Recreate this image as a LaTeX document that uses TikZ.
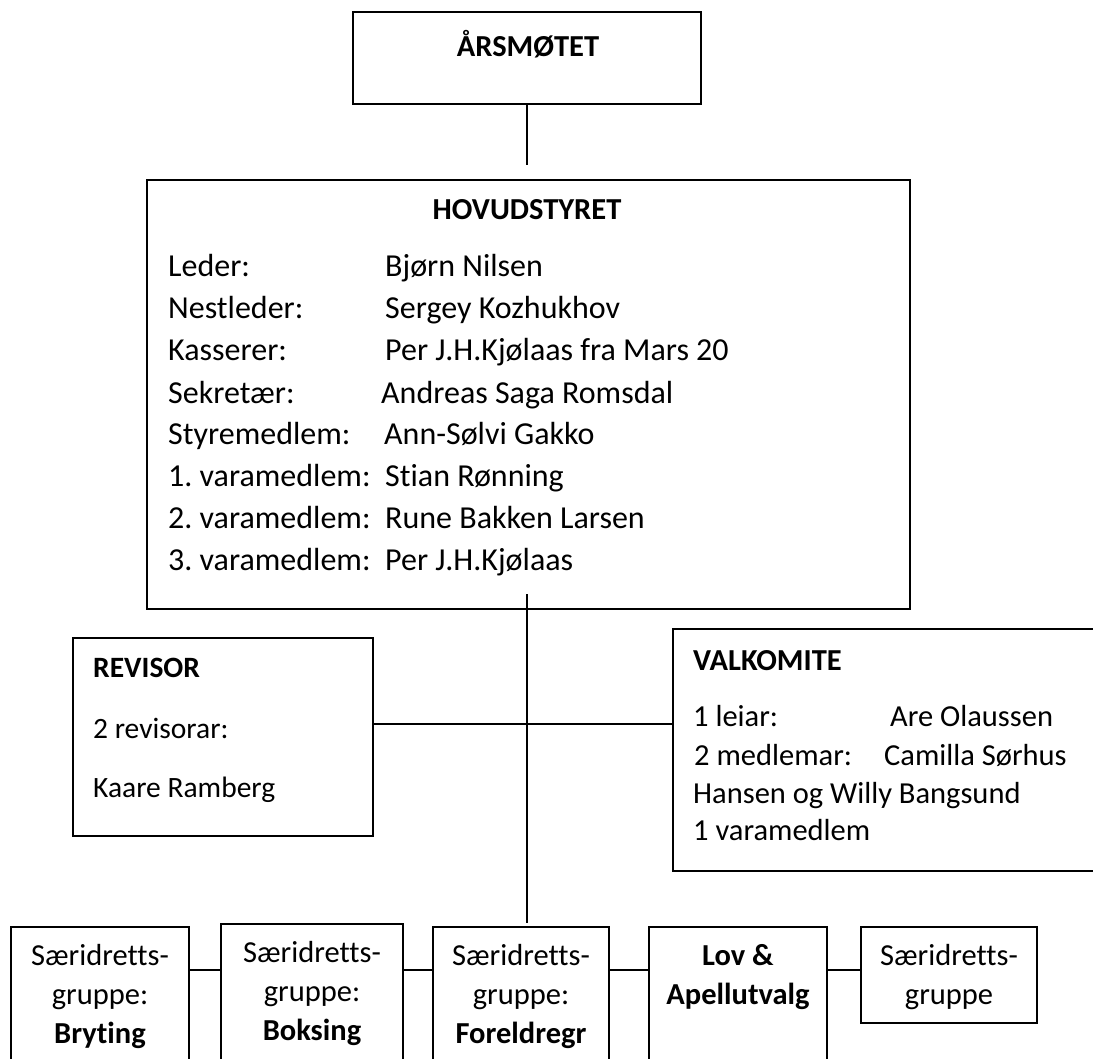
\documentclass[tikz,border=0pt]{standalone}
\usepackage{fontspec}
\setmainfont[Ligatures={NoCommon}]{Carlito}
\begin{document}
\frenchspacing
\begin{tikzpicture}[x=1pt,y=-1pt,
  box/.style={draw=black, line width=1.3pt, inner sep=0pt, outer sep=0pt, anchor=north west},
  lt/.style={anchor=base west, inner sep=0pt, font=\fontsize{30.5}{38}\selectfont},
  ht/.style={anchor=base west, inner sep=0pt, font=\fontsize{32}{38}\selectfont},
  rt/.style={anchor=base west, inner sep=0pt, font=\fontsize{29.5}{38}\selectfont},
  ct/.style={anchor=base, inner sep=0pt, font=\fontsize{30.5}{38}\selectfont},
  conn/.style={draw=black, line width=1.3pt}]
\useasboundingbox (0,0) rectangle (1093,1059);

% boxes
\node[box, minimum width=348pt, minimum height=92pt] (aars) at (353,12) {};
\node[box, minimum width=763pt, minimum height=429pt] (hov) at (147,180) {};
\node[box, minimum width=300pt, minimum height=198pt] (rev) at (73,638) {};
\node[box, minimum width=440pt, minimum height=242pt] (val) at (673,629) {};
\node[box, minimum width=178pt, minimum height=150pt] (bry) at (11,927) {};
\node[box, minimum width=182pt, minimum height=153pt] (bok) at (221,924) {};
\node[box, minimum width=176pt, minimum height=150pt] (fore) at (433,927) {};
\node[box, minimum width=178pt, minimum height=150pt] (lov) at (649,927) {};
\node[box, minimum width=176pt, minimum height=96pt] (sg) at (861,927) {};

% texts
\node[ct] (t1) at (528,57) {\textbf{ÅRSMØTET}};
\node[ct] (t2) at (527,220) {\textbf{HOVUDSTYRET}};
\node[ht] (l1) at (168,277) {Leder:};
\node[ht] (r1) at (385,277) {Bjørn Nilsen};
\node[ht] (l2) at (168,319) {Nestleder:};
\node[ht] (r2) at (385,319) {Sergey Kozhukhov};
\node[ht] (l3) at (168,361) {Kasserer:};
\node[ht] (r3) at (385,361) {Per J.H.Kjølaas fra Mars 20};
\node[ht] (l4) at (168,403) {Sekretær:};
\node[ht] (r4) at (381,403) {Andreas Saga Romsdal};
\node[ht] (l5) at (168,444) {Styremedlem:};
\node[ht] (r5) at (384,444) {Ann-Sølvi Gakko};
\node[ht] (l6) at (168,486) {1. varamedlem:};
\node[ht] (r6) at (385,486) {Stian Rønning};
\node[ht] (l7) at (168,528) {2. varamedlem:};
\node[ht] (r7) at (385,528) {Rune Bakken Larsen};
\node[ht] (l8) at (168,570) {3. varamedlem:};
\node[ht] (r8) at (385,570) {Per J.H.Kjølaas};

\node[rt] (rv1) at (93,677) {\textbf{REVISOR}};
\node[rt] (rv2) at (93,738) {2 revisorar:};
\node[rt] (rv3) at (93,797) {Kaare Ramberg};

\node[lt] (v0) at (693,670) {\textbf{VALKOMITE}};
\node[lt] (v1) at (693,726) {1 leiar:};
\node[lt] (v1b) at (890,726) {Are Olaussen};
\node[lt] (v2) at (694,765) {2 medlemar:};
\node[lt] (v2b) at (884,765) {Camilla Sørhus};
\node[lt] (v3) at (693,803) {Hansen og Willy Bangsund};
\node[lt] (v4) at (693,840) {1 varamedlem};

\node[ct] (b1a) at (100,965) {Særidretts-};
\node[ct] (b1b) at (100,1004) {gruppe:};
\node[ct] (b1c) at (100,1043) {\textbf{Bryting}};
\node[ct] (b2a) at (312,962) {Særidretts-};
\node[ct] (b2b) at (312,1001) {gruppe:};
\node[ct] (b2c) at (312,1040) {\textbf{Boksing}};
\node[ct] (b3a) at (521,965) {Særidretts-};
\node[ct] (b3b) at (521,1004) {gruppe:};
\node[ct] (b3c) at (521,1043) {\textbf{Foreldregr}};
\node[ct] (b4a) at (738,965) {\textbf{Lov \&}};
\node[ct] (b4b) at (738,1004) {\textbf{Apellutvalg}};
\node[ct] (b5a) at (949,965) {Særidretts-};
\node[ct] (b5b) at (949,1004) {gruppe};

% connectors
\coordinate (c1) at (527,165);
\coordinate (c2) at (527,594);
\coordinate (c3) at (527,923);
\coordinate (cm) at (527,724);
\coordinate (cb) at (527,970);
\draw[conn] (aars.south -| c1) -- (c1);
\draw[conn] (c2) -- (c3);
\draw[conn] (rev.east |- cm) -- (val.west |- cm);
\draw[conn] (bry.east |- cb) -- (bok.west |- cb);
\draw[conn] (bok.east |- cb) -- (fore.west |- cb);
\draw[conn] (fore.east |- cb) -- (lov.west |- cb);
\draw[conn] (lov.east |- cb) -- (sg.west |- cb);
\end{tikzpicture}
\end{document}
